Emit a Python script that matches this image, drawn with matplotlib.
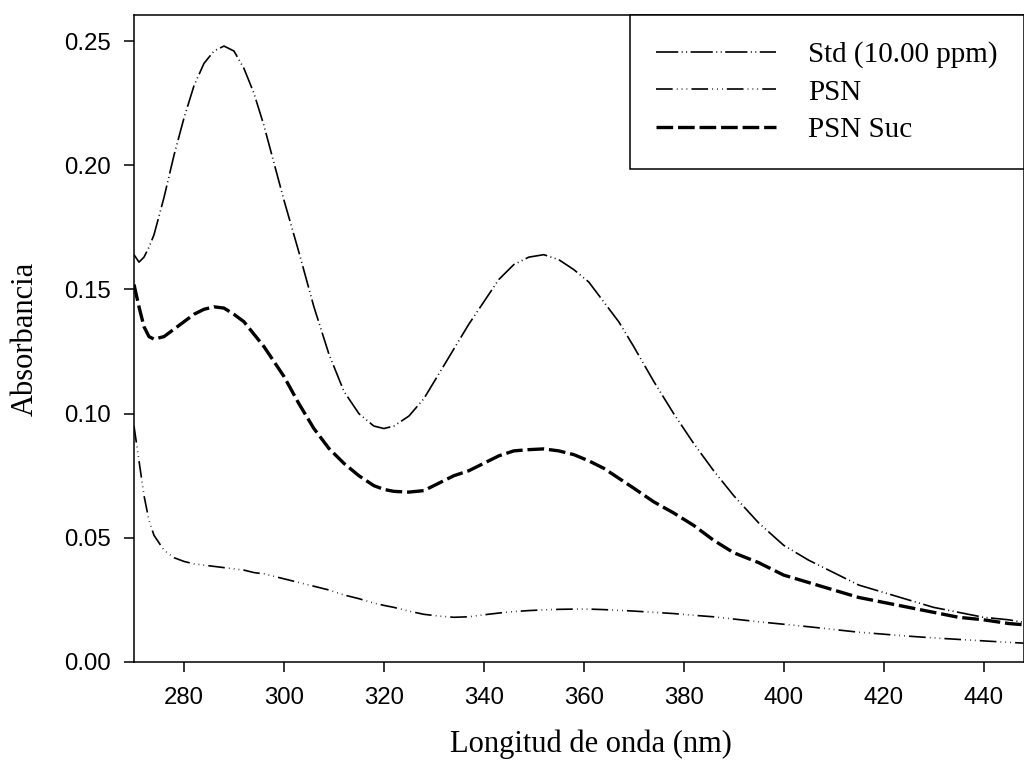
import numpy as np
import matplotlib
matplotlib.use('Agg')
import matplotlib.pyplot as plt

plt.rcParams['lines.scale_dashes'] = False

# wavelength (nm)
wl = [270, 271, 272, 273, 274, 276, 278, 280, 282, 284, 286, 288, 290, 292, 294,
      296, 298, 300, 303, 306, 309, 312, 315, 318, 320, 322, 325, 328, 331, 334,
      337, 340, 343, 346, 349, 352, 355, 358, 361, 364, 367, 370, 374, 378, 382,
      386, 390, 395, 400, 405, 410, 415, 420, 425, 430, 435, 440, 445, 448]

std = [0.164, 0.161, 0.163, 0.167, 0.172, 0.187, 0.204, 0.219, 0.232, 0.241,
       0.246, 0.248, 0.246, 0.239, 0.229, 0.216, 0.201, 0.186, 0.165, 0.143,
       0.124, 0.109, 0.100, 0.095, 0.094, 0.095, 0.099, 0.106, 0.116, 0.126,
       0.136, 0.145, 0.154, 0.160, 0.163, 0.164, 0.162, 0.158, 0.153, 0.145,
       0.137, 0.127, 0.113, 0.100, 0.088, 0.077, 0.067, 0.056, 0.047, 0.041,
       0.036, 0.031, 0.028, 0.025, 0.022, 0.020, 0.018, 0.017, 0.016]

psn = [0.095, 0.081, 0.067, 0.057, 0.051, 0.045, 0.042, 0.0405, 0.0395, 0.039,
       0.0385, 0.038, 0.0375, 0.037, 0.036, 0.0355, 0.0345, 0.0335, 0.032, 0.0305,
       0.029, 0.027, 0.0255, 0.0237, 0.0228, 0.022, 0.0205, 0.0192, 0.0185, 0.018,
       0.0182, 0.019, 0.0197, 0.0203, 0.0207, 0.021, 0.0212, 0.0213, 0.0213, 0.0211,
       0.0208, 0.0205, 0.0200, 0.0195, 0.0188, 0.0182, 0.0173, 0.0162, 0.0152, 0.0142,
       0.0131, 0.0120, 0.0112, 0.0104, 0.0097, 0.0091, 0.0085, 0.0079, 0.0076]

psn_suc = [0.152, 0.143, 0.135, 0.131, 0.130, 0.131, 0.134, 0.137, 0.140, 0.142,
           0.143, 0.1425, 0.140, 0.137, 0.132, 0.127, 0.121, 0.115, 0.104, 0.094,
           0.086, 0.080, 0.075, 0.071, 0.0695, 0.0687, 0.0684, 0.069, 0.072, 0.075,
           0.077, 0.080, 0.083, 0.085, 0.0855, 0.0858, 0.085, 0.0835, 0.081, 0.078,
           0.074, 0.070, 0.0645, 0.060, 0.055, 0.049, 0.044, 0.040, 0.035, 0.032,
           0.029, 0.026, 0.024, 0.022, 0.020, 0.018, 0.017, 0.0155, 0.015]

labels = ['Std (10.00 ppm)', 'PSN', 'PSN Suc']
xticks = [280, 300, 320, 340, 360, 380, 400, 420, 440]
yticks = [0.00, 0.05, 0.10, 0.15, 0.20, 0.25]

fig = plt.figure(figsize=(10.24, 7.67), dpi=100)
ax = fig.add_axes([134/1024, 1-662/767, (1023.5-134)/1024, (662-15)/767])

ax.plot(wl, std, color='black', lw=1.2, dashes=(16, 2.5, 0.7, 2.5, 0.7, 2.5), label=labels[0])
ax.plot(wl, psn, color='black', lw=1.2, dashes=(12, 3, 0.5, 3, 0.5, 3, 0.5, 3), label=labels[1])
ax.plot(wl, psn_suc, color='black', lw=2.4, dashes=(12, 3.5), label=labels[2])

ax.set_xlim(270, 448)
ax.set_ylim(0, 0.2605)
ax.set_xticks(xticks)
ax.set_yticks(yticks)
ax.set_yticklabels(['%.2f' % v for v in yticks])

for s in ax.spines.values():
    s.set_linewidth(1.1)
ax.tick_params(direction='out', length=7, width=1.1, pad=10, labelsize=17.3)
ax.tick_params(axis='x', pad=11)
for t in ax.get_xticklabels() + ax.get_yticklabels():
    t.set_fontfamily('Liberation Sans')

ax.set_xlabel('Longitud de onda (nm)', fontfamily='Liberation Serif', fontsize=22)
ax.set_ylabel('Absorbancia', fontfamily='Liberation Serif', fontsize=22, labelpad=17)
ax.xaxis.set_label_coords(0.514, -0.105)

leg = ax.legend(loc='upper right', prop={'family': 'Liberation Serif', 'size': 21},
                frameon=True, fancybox=False, edgecolor='black', framealpha=1,
                borderaxespad=0, borderpad=0.9, handlelength=4.1, handletextpad=1.1,
                labelspacing=0.38)
leg.get_frame().set_linewidth(1.1)

fig.savefig('out.png', dpi=100)
